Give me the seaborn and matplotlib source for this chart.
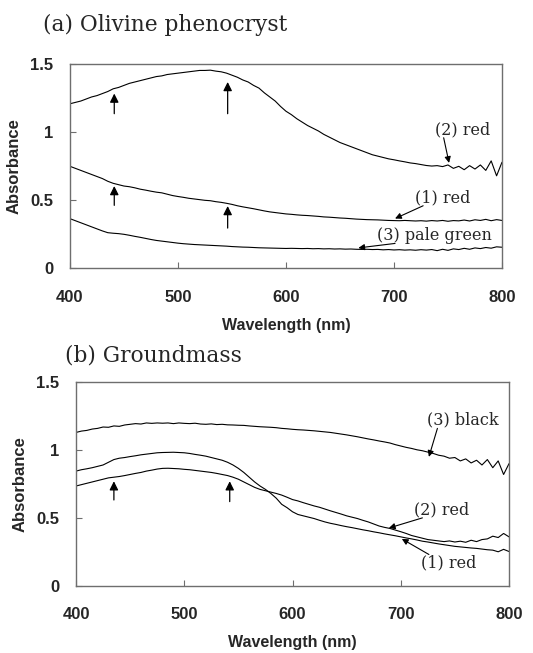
import numpy as np
import pandas as pd
import matplotlib
matplotlib.use("Agg")
import matplotlib.pyplot as plt
import seaborn as sns

sns.set_style("white")
SERIF = ["DejaVu Serif"]
SANS = ["Liberation Sans", "DejaVu Sans"]
plt.rcParams["font.family"] = SANS

wavelength = np.arange(400, 801, 5)

# ---- (a) olivine phenocryst -------------------------------------------------
ol_red2 = [1.21, 1.22, 1.23, 1.245, 1.26, 1.27, 1.285, 1.30, 1.32, 1.33,
           1.345, 1.36, 1.37, 1.38, 1.39, 1.40, 1.41, 1.415, 1.425, 1.43,
           1.435, 1.44, 1.445, 1.45, 1.455, 1.455, 1.457, 1.45, 1.445, 1.435,
           1.42, 1.405, 1.385, 1.37, 1.345, 1.325, 1.29, 1.26, 1.23, 1.19,
           1.155, 1.13, 1.10, 1.075, 1.05, 1.03, 1.01, 0.985, 0.965, 0.945,
           0.925, 0.91, 0.895, 0.88, 0.865, 0.85, 0.835, 0.825, 0.815, 0.805,
           0.798, 0.79, 0.783, 0.775, 0.77, 0.763, 0.756, 0.752, 0.755, 0.748,
           0.76, 0.735, 0.75, 0.725, 0.755, 0.73, 0.76, 0.72, 0.79, 0.68,
           0.78]
ol_red1 = [0.75, 0.735, 0.72, 0.705, 0.69, 0.675, 0.66, 0.64, 0.625, 0.615,
           0.605, 0.60, 0.592, 0.582, 0.575, 0.567, 0.56, 0.555, 0.545, 0.535,
           0.528, 0.522, 0.515, 0.51, 0.505, 0.50, 0.497, 0.49, 0.485, 0.478,
           0.47, 0.46, 0.452, 0.445, 0.438, 0.43, 0.422, 0.415, 0.41, 0.405,
           0.40, 0.397, 0.393, 0.39, 0.388, 0.385, 0.382, 0.378, 0.376, 0.373,
           0.37, 0.368, 0.365, 0.362, 0.36, 0.358, 0.357, 0.356, 0.354, 0.352,
           0.351, 0.35, 0.352, 0.35, 0.348, 0.35, 0.347, 0.351, 0.348, 0.352,
           0.346, 0.351, 0.349, 0.355, 0.348, 0.357, 0.352, 0.36, 0.35, 0.358,
           0.352]
ol_green3 = [0.365, 0.35, 0.335, 0.32, 0.305, 0.29, 0.275, 0.262, 0.258, 0.255,
             0.25, 0.243, 0.235, 0.228, 0.22, 0.212, 0.205, 0.20, 0.195, 0.19,
             0.185, 0.181, 0.178, 0.175, 0.173, 0.171, 0.169, 0.167, 0.165, 0.163,
             0.16, 0.158, 0.156, 0.155, 0.153, 0.151, 0.15, 0.149, 0.148, 0.147,
             0.146, 0.147, 0.146, 0.145, 0.146, 0.144, 0.145, 0.143, 0.144, 0.142,
             0.143, 0.141, 0.142, 0.14, 0.139, 0.14, 0.138, 0.139, 0.136, 0.138,
             0.135, 0.137, 0.134, 0.136, 0.133, 0.137, 0.134, 0.138, 0.13, 0.14,
             0.132, 0.143, 0.138, 0.147, 0.14, 0.15, 0.145, 0.153, 0.148, 0.158,
             0.155]

# ---- (b) groundmass ----------------------------------------------------------
gm_black3 = [1.13, 1.14, 1.145, 1.155, 1.16, 1.17, 1.168, 1.178, 1.175, 1.185,
             1.19, 1.195, 1.192, 1.20, 1.197, 1.20, 1.198, 1.20, 1.195, 1.20,
             1.197, 1.195, 1.198, 1.192, 1.19, 1.193, 1.188, 1.19, 1.186, 1.185,
             1.183, 1.182, 1.178, 1.175, 1.172, 1.17, 1.168, 1.165, 1.16, 1.157,
             1.153, 1.15, 1.148, 1.145, 1.142, 1.138, 1.134, 1.13, 1.124, 1.118,
             1.112, 1.105, 1.098, 1.09, 1.082, 1.075, 1.067, 1.06, 1.052, 1.04,
             1.03, 1.02, 1.012, 1.002, 0.995, 0.985, 0.975, 0.962, 0.955, 0.94,
             0.945, 0.92, 0.935, 0.905, 0.925, 0.89, 0.93, 0.87, 0.92, 0.82,
             0.90]
gm_red1 = [0.845, 0.855, 0.862, 0.87, 0.88, 0.89, 0.91, 0.93, 0.94, 0.945,
           0.952, 0.958, 0.965, 0.97, 0.975, 0.98, 0.982, 0.983, 0.984, 0.982,
           0.98, 0.975, 0.968, 0.962, 0.955, 0.945, 0.935, 0.925, 0.91, 0.89,
           0.865, 0.835, 0.80, 0.765, 0.735, 0.71, 0.68, 0.645, 0.60, 0.575,
           0.545, 0.525, 0.515, 0.505, 0.495, 0.482, 0.47, 0.46, 0.452, 0.443,
           0.435, 0.428, 0.42, 0.412, 0.405, 0.397, 0.39, 0.382, 0.375, 0.368,
           0.36, 0.352, 0.345, 0.337, 0.328, 0.322, 0.315, 0.308, 0.302, 0.296,
           0.29, 0.286, 0.282, 0.278, 0.275, 0.27, 0.265, 0.262, 0.25, 0.268,
           0.252]
gm_red2 = [0.735, 0.745, 0.755, 0.765, 0.775, 0.785, 0.795, 0.80, 0.805, 0.812,
           0.82, 0.828, 0.835, 0.845, 0.852, 0.86, 0.865, 0.866, 0.864, 0.862,
           0.858, 0.855, 0.85, 0.845, 0.84, 0.835, 0.828, 0.82, 0.812, 0.80,
           0.785, 0.765, 0.745, 0.725, 0.71, 0.70, 0.69, 0.68, 0.668, 0.652,
           0.635, 0.625, 0.612, 0.60, 0.588, 0.578, 0.565, 0.552, 0.54, 0.528,
           0.515, 0.505, 0.495, 0.482, 0.47, 0.455, 0.44, 0.43, 0.422, 0.41,
           0.398, 0.385, 0.37, 0.36, 0.35, 0.34, 0.335, 0.33, 0.325, 0.33,
           0.322, 0.328, 0.32, 0.335, 0.325, 0.34, 0.345, 0.365, 0.355, 0.385,
           0.36]

# band-position arrows (wavelength, shaft start, tip)
ol_band_arrows = [(441, 1.137, 1.285), (546, 1.137, 1.37),
                  (441, 0.463, 0.605), (546, 0.296, 0.458)]
gm_band_arrows = [(435, 0.632, 0.77), (542, 0.62, 0.77)]

# sample labels: text, text position, arrow tip
ol_labels = [("(2) red", (764, 1.02), (751, 0.775)),
             ("(1) red", (745, 0.52), (701, 0.366)),
             ("(3) pale green", (737, 0.243), (667, 0.15))]
gm_labels = [("(3) black", (757, 1.22), (726, 0.95)),
             ("(2) red", (738, 0.56), (689, 0.425)),
             ("(1) red", (744, 0.17), (701, 0.345))]

SPINE = "#6e6e6e"

fig = plt.figure(figsize=(5.33, 6.53), dpi=100)
ax_a = fig.add_axes([0.1313, 0.5891, 0.8105, 0.3124])
ax_b = fig.add_axes([0.1426, 0.1031, 0.8124, 0.3115])


def draw_panel(ax, series, band_arrows, labels):
    for vals in series:
        sns.lineplot(x=wavelength, y=vals, ax=ax, color="black", lw=0.8)
    ax.set_xlim(400, 800)
    ax.set_ylim(0, 1.5)
    ax.set_xticks([400, 500, 600, 700, 800])
    ax.set_yticks([0, 0.5, 1, 1.5])
    ax.set_yticklabels(["0", "0.5", "1", "1.5"])
    ax.tick_params(direction="in", length=4.5, width=0.8, color=SPINE,
                   labelsize=12, left=True, bottom=True)
    ax.tick_params(axis="x", pad=15.5)
    ax.tick_params(axis="y", pad=12)
    for lab in ax.get_xticklabels() + ax.get_yticklabels():
        lab.set_fontweight("bold")
    for sp in ax.spines.values():
        sp.set_color(SPINE)
        sp.set_linewidth(1.0)
    ax.set_xlabel("Wavelength (nm)", fontsize=11.5, fontweight="bold", labelpad=9.5)
    ax.set_ylabel("Absorbance", fontsize=12, fontweight="bold", labelpad=6)

    for wl, y0, y1 in band_arrows:
        ax.annotate("", xy=(wl, y1), xytext=(wl, y0),
                    arrowprops=dict(arrowstyle="-|>", lw=0.9, color="black",
                                    mutation_scale=13, shrinkA=0, shrinkB=0))
    for text, (tx, ty), (ax_, ay) in labels:
        ax.text(tx, ty, text, ha="center", va="center", fontsize=11.5,
                family=SERIF)
    for text, (tx, ty), (ax_, ay) in labels:
        # arrow starts at the lower-left edge of the label
        dx = -0.045 * 400 * len(text) / 7
        start = (tx + dx, ty - 0.06 if ay < ty else ty + 0.06)
        ax.annotate("", xy=(ax_, ay), xytext=start,
                    arrowprops=dict(arrowstyle="-|>", lw=0.8, color="black",
                                    mutation_scale=9, shrinkA=0, shrinkB=0))


draw_panel(ax_a, [ol_red2, ol_red1, ol_green3], ol_band_arrows, ol_labels)
draw_panel(ax_b, [gm_black3, gm_red1, gm_red2], gm_band_arrows, gm_labels)

fig.text(0.0807, 0.9525, "(a) Olivine phenocryst", fontsize=15.7,
         family=SERIF, va="baseline")
fig.text(0.122, 0.4465, "(b) Groundmass", fontsize=15.7,
         family=SERIF, va="baseline")

fig.savefig("out.png", dpi=100)
